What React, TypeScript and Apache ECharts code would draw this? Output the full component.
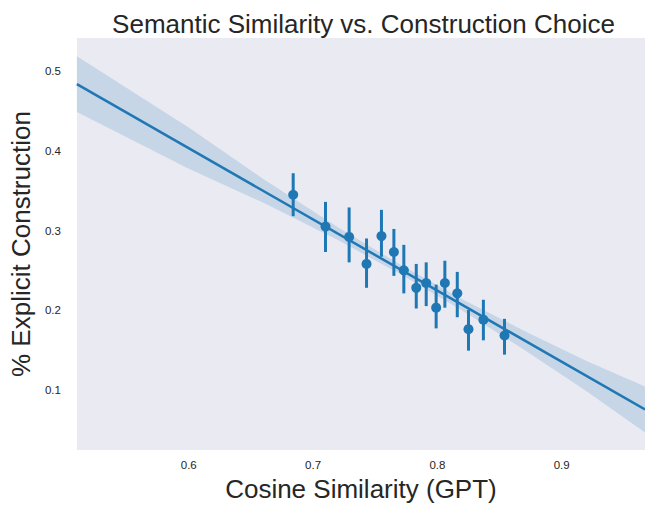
import React, { useEffect, useRef } from "react";
import * as echarts from "echarts";

const pointX = [0.684, 0.710, 0.729, 0.743, 0.755, 0.765, 0.773, 0.783, 0.791, 0.799, 0.806, 0.816, 0.825, 0.837, 0.854];
const pointY = [0.345, 0.305, 0.292, 0.258, 0.293, 0.273, 0.250, 0.228, 0.234, 0.203, 0.234, 0.221, 0.176, 0.188, 0.168];
const errLow = [0.318, 0.273, 0.260, 0.228, 0.267, 0.243, 0.221, 0.202, 0.205, 0.177, 0.203, 0.191, 0.149, 0.162, 0.144];
const errHigh = [0.372, 0.336, 0.329, 0.290, 0.326, 0.302, 0.282, 0.258, 0.260, 0.232, 0.262, 0.248, 0.200, 0.213, 0.189];

const fitX = [0.51, 0.967];
const fitY = [0.484, 0.075];

const bandX = [0.51, 0.6, 0.66, 0.72, 0.77, 0.82, 0.87, 0.92, 0.967];
const bandUpper = [0.519, 0.4295, 0.3648, 0.3041, 0.2573, 0.2136, 0.1738, 0.1361, 0.104];
const bandLower = [0.449, 0.3775, 0.3348, 0.2881, 0.2453, 0.1996, 0.1498, 0.0981, 0.046];

const xTicks = [0.6, 0.7, 0.8, 0.9];
const yTicks = [0.1, 0.2, 0.3, 0.4, 0.5];

const BLUE = "#1f77b4";
const FONT = "Liberation Sans, Arial, sans-serif";

export default function App() {
  const ref = useRef<HTMLDivElement>(null);
  useEffect(() => {
    document.body.style.margin = "0";
    const chart = echarts.init(ref.current!, undefined, { renderer: "svg" });
    const bandData = bandX.map((x, i) => [x, bandLower[i], bandUpper[i]]);
    chart.setOption({
      animation: false,
      backgroundColor: "#ffffff",
      title: {
        text: "Semantic Similarity vs. Construction Choice",
        left: 358.5,
        textAlign: "center",
        top: 6,
        textStyle: { fontFamily: FONT, fontSize: 26, fontWeight: "normal", color: "#262626" },
      },
      grid: {
        left: 72,
        right: 0,
        top: 38,
        bottom: 49,
        show: true,
        backgroundColor: "#EAEAF2",
        borderWidth: 0,
      },
      xAxis: {
        type: "value",
        min: 0.51,
        max: 0.967,
        name: "Cosine Similarity (GPT)",
        nameLocation: "middle",
        nameGap: 22,
        nameTextStyle: { fontFamily: FONT, fontSize: 26, color: "#262626" },
        axisLine: { show: false },
        axisTick: { show: false },
        splitLine: { show: false },
        axisLabel: {
          customValues: xTicks,
          fontFamily: FONT,
          fontSize: 11.5,
          color: "#262626",
          margin: 9,
          formatter: (v: number) => v.toFixed(1),
        },
      },
      yAxis: {
        type: "value",
        min: 0.024,
        max: 0.542,
        name: "% Explicit Construction",
        nameLocation: "middle",
        nameGap: 38,
        nameTextStyle: { fontFamily: FONT, fontSize: 26, color: "#262626" },
        axisLine: { show: false },
        axisTick: { show: false },
        splitLine: { show: false },
        axisLabel: {
          customValues: yTicks,
          fontFamily: FONT,
          fontSize: 11.5,
          color: "#262626",
          margin: 16,
          formatter: (v: number) => v.toFixed(1),
        },
      },
      series: [
        {
          type: "custom",
          data: bandData,
          clip: true,
          silent: true,
          z: 1,
          renderItem: (params: any, api: any) => {
            if (params.dataIndex !== 0) return null;
            const up = bandData.map((d) => api.coord([d[0], d[2]]));
            const lo = bandData.map((d) => api.coord([d[0], d[1]])).reverse();
            return {
              type: "polygon",
              shape: { points: up.concat(lo) },
              style: { fill: "rgba(31,119,180,0.17)", stroke: "none" },
            };
          },
        },
        {
          type: "line",
          data: fitX.map((x, i) => [x, fitY[i]]),
          showSymbol: false,
          lineStyle: { color: BLUE, width: 2.5 },
          z: 2,
        },
        {
          type: "custom",
          data: pointX.map((x, i) => [x, errLow[i], errHigh[i]]),
          z: 3,
          renderItem: (params: any, api: any) => {
            const a = api.coord([api.value(0), api.value(1)]);
            const b = api.coord([api.value(0), api.value(2)]);
            return {
              type: "line",
              shape: { x1: a[0], y1: a[1], x2: b[0], y2: b[1] },
              style: { stroke: BLUE, lineWidth: 3 },
            };
          },
        },
        {
          type: "scatter",
          data: pointX.map((x, i) => [x, pointY[i]]),
          symbolSize: 10,
          itemStyle: { color: BLUE, opacity: 1 },
          z: 4,
        },
      ],
    });
    return () => chart.dispose();
  }, []);
  return <div ref={ref} style={{ width: 645, height: 507 }} />;
}
